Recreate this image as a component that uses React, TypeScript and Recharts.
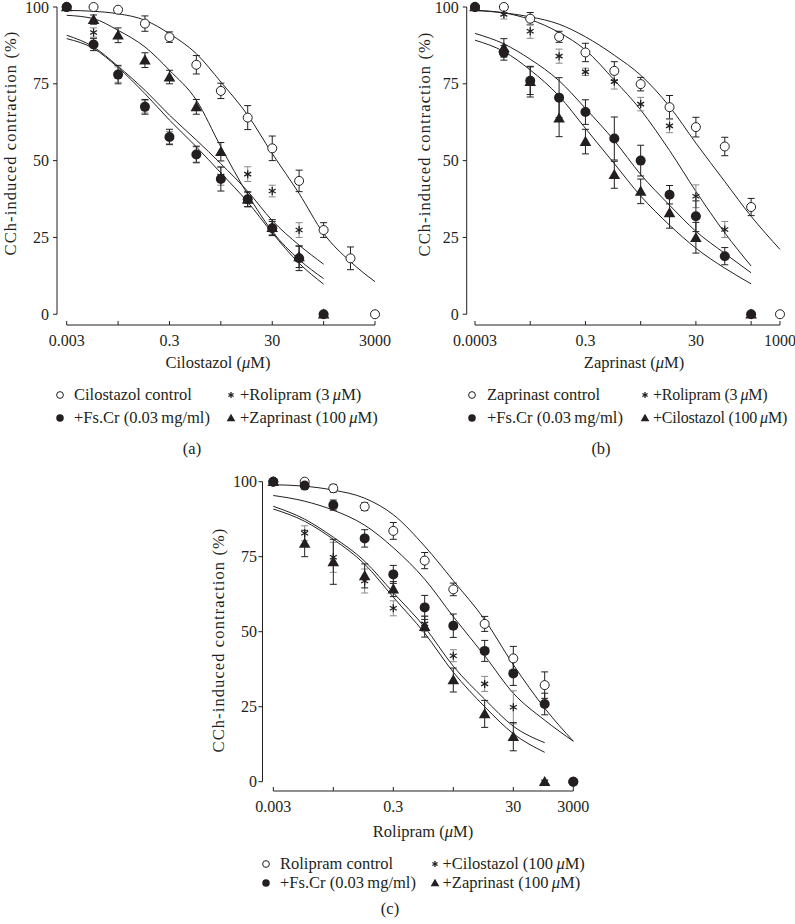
import React from 'react';
import { ComposedChart, Line, Scatter, ErrorBar, XAxis, YAxis, ReferenceLine } from 'recharts';

const INK = '#231f20';
const SERIF = '"Liberation Serif", "Times New Roman", serif';

// ---------- (a) Cilostazol ----------
const cilConc = [0.003, 0.01, 0.03, 0.1, 0.3, 1, 3, 10, 30, 100, 300, 1000, 3000];
const cilShortConc = [0.003, 0.01, 0.03, 0.1, 0.3, 1, 3, 10, 30, 100, 300];
const cilControl = [100, 100, 99.1, 94.6, 90.2, 81.2, 72.7, 64, 54, 43.4, 27.4, 18.2, 0];
const cilControlErr = [0, 0, 0, 2.5, 1.7, 3, 2.5, 3.9, 4, 3.5, 2.4, 3.7, 0];
const cilRolipram = [100, 91.7, 78, 67.5, 57.5, 52, 45, 45.6, 40.1, 27.4, 0];
const cilRolipramErr = [0, 1.5, 2.5, 2, 2, 2.5, 3, 2.4, 1.9, 2.4, 0];
const cilFsCr = [100, 87.8, 78, 67.5, 57.7, 52, 44, 37.4, 28, 18.2, 0];
const cilFsCrErr = [0, 2, 3, 2.4, 2.5, 2.7, 3.9, 2.4, 2.2, 4, 0];
const cilZaprinast = [100, 95.9, 90.8, 82.7, 77.2, 67.5, 52.9, 37.4, 28.2, 18.7, 0];
const cilZaprinastErr = [0, 1.5, 2.4, 2.4, 2.2, 2.4, 3, 2.4, 2.6, 3.5, 0];
const cilControlFit = [98.9, 98.6, 97.8, 95.7, 91.3, 84.8, 75.6, 64.8, 52.3, 39.3, 26.3, 17.1, 10.6];
const cilRolipramFit = [90.8, 87, 80.7, 72.9, 64.8, 56.7, 49, 40, 30.5, 22.5, 16.3];
const cilFsCrFit = [89.7, 86.5, 80.3, 71.8, 63.2, 54.5, 46, 36.5, 26.5, 16.6, 9.8];
const cilZaprinastFit = [97.3, 96.2, 92.4, 87, 79.4, 69.7, 54.5, 39, 27, 17.8, 11.6];
const cilTicks = [0.003, 0.03, 0.3, 3, 30, 300, 3000];
const cilTickLabels = ['0.003', '', '0.3', '', '30', '', '3000'];

// ---------- (b) Zaprinast ----------
const zapConc = [0.003, 0.01, 0.03, 0.1, 0.3, 1, 3, 10, 30, 100, 300, 1000];
const zapShortConc = [0.003, 0.01, 0.03, 0.1, 0.3, 1, 3, 10, 30, 100, 300];
const zapCiloConc = [0.003, 0.01, 0.03, 0.1, 0.3, 1, 3, 10, 30, 300];
const zapControl = [100, 100, 96.2, 90.3, 85.2, 79.2, 74.9, 67.4, 60.9, 54.6, 34.9, 0];
const zapControlErr = [0, 0, 2, 1.8, 3, 3, 2.2, 3.8, 3.2, 3, 2.8, 0];
const zapRolipram = [100, 97.6, 92.1, 84, 78.9, 75.7, 68.4, 61.3, 38.4, 27.6, 0];
const zapRolipramErr = [0, 1.5, 2.3, 2.3, 1.2, 2.4, 2.2, 2.2, 3.7, 2.6, 0];
const zapFsCr = [100, 85.1, 76, 70.5, 65.8, 57.2, 50, 38.9, 31.9, 18.9, 0];
const zapFsCrErr = [0, 2.4, 4.5, 6.5, 4, 7, 5, 3, 5, 2.8, 0];
const zapCilostazol = [100, 86.7, 75.7, 63.8, 56.2, 45.4, 40, 33, 24.9, 0];
const zapCilostazolErr = [0, 3, 5, 6, 4, 4.4, 4, 5, 5, 0];
const zapControlFit = [98.9, 98.1, 96.8, 94.4, 90.3, 84.3, 77.8, 67.6, 55.7, 43.2, 31.9, 21.1];
const zapRolipramFit = [98.9, 98.1, 95.9, 91.7, 86, 76.2, 66.5, 53.3, 40, 26.5, 15.7];
const zapFsCrFit = [91.4, 88, 83, 76, 67, 56.5, 45.5, 35.5, 27, 19.8, 13.5];
const zapCilostazolFit = [89.2, 85.5, 79.5, 71, 60.5, 49, 38.5, 29, 21.5, 15, 9.9];
const zapTicks = [0.003, 0.03, 0.3, 3, 30, 300, 1000];
const zapTickLabels = ['0.0003', '', '0.3', '', '30', '', '1000'];

// ---------- (c) Rolipram ----------
const roliConc = [0.003, 0.01, 0.03, 0.1, 0.3, 1, 3, 10, 30, 100, 300];
const roliShortConc = [0.003, 0.01, 0.03, 0.1, 0.3, 1, 3, 10, 30, 100];
const roliControl = [100, 100, 97.8, 91.7, 83.6, 73.7, 64.1, 52.6, 41.1, 32.2, 0];
const roliControlErr = [0, 0, 1.3, 1.3, 2.8, 2.7, 2.1, 2.5, 4, 4.4, 0];
const roliCilostazol = [100, 82.8, 74.8, 66.9, 57.8, 52.6, 42, 32.6, 24.8, 0];
const roliCilostazolErr = [0, 2.5, 5, 4, 2.5, 2.5, 2, 2.5, 5.5, 0];
const roliFsCr = [100, 98.7, 92.2, 81.1, 69.1, 58.1, 52, 43.6, 36.1, 25.9, 0];
const roliFsCrErr = [0, 0.8, 1.7, 2.9, 3, 4, 3.9, 3.5, 4, 3.6, 0];
const roliZaprinast = [100, 79.4, 73.3, 68.6, 64.2, 51.7, 33.9, 22.6, 15, 0];
const roliZaprinastErr = [0, 4.4, 7.5, 4, 2.5, 3.5, 4, 4.5, 4.7, 0];
const roliControlFit = [99, 98.5, 97.2, 94.5, 89, 78.5, 67, 54, 39, 24.5, 13.5];
const roliFsCrFit = [95.4, 93.5, 90.5, 85.5, 78, 67.5, 55, 42, 29.5, 20.5, 13.5];
const roliCilostazolFit = [91.8, 87.5, 81.5, 73.5, 63, 51.5, 38.5, 27.5, 18.5, 13];
const roliZaprinastFit = [90.9, 86.8, 80.8, 72.5, 61.5, 49.5, 36.5, 25, 16, 9.8];
const roliTicks = [0.003, 0.03, 0.3, 3, 30, 300];
const roliTickLabels = ['0.003', '', '0.3', '', '30', '3000'];

const yTicks = [0, 25, 50, 75, 100];

const toPts = (xs: number[], ys: number[], errs?: number[]) =>
  xs.map((x, i) => ({ x, y: ys[i], err: errs ? errs[i] : 0 }));

type Kind = 'open' | 'star' | 'tri' | 'filled';

const starArms = [90, 30, 150];

function drawMark(kind: Kind, cx: number, cy: number, small = false) {
  const k = small ? 0.75 : 1;
  if (kind === 'open') return <circle cx={cx} cy={cy} r={4.5 * k} fill="#fff" stroke={INK} strokeWidth={1} />;
  if (kind === 'filled') return <circle cx={cx} cy={cy} r={5 * k} fill={INK} />;
  if (kind === 'tri') {
    const h = 5.8 * k;
    return <path d={`M${cx},${cy - h}L${cx + h},${cy + h * 0.75}L${cx - h},${cy + h * 0.75}Z`} fill={INK} />;
  }
  const r = 4 * k;
  return (
    <g stroke={INK} strokeWidth={1.3}>
      {starArms.map((a) => {
        const dx = r * Math.cos((a * Math.PI) / 180);
        const dy = r * Math.sin((a * Math.PI) / 180);
        return <line key={a} x1={cx - dx} y1={cy - dy} x2={cx + dx} y2={cy + dy} />;
      })}
    </g>
  );
}

type Series = { data: { x: number; y: number; err: number }[]; kind: Kind; errColor: string };

function Panel(props: {
  left: number; top: number; width: number; height: number;
  margin: { top: number; right: number; bottom: number; left: number };
  xDomain: [number, number]; yDomain: [number, number];
  ticks: number[]; tickLabels: string[]; tickMarginY: number;
  fits: { x: number; y: number }[][]; series: Series[];
}) {
  const { xDomain, yDomain, ticks, tickLabels } = props;
  const tickStyle = { fill: INK, fontSize: 16, fontFamily: SERIF };
  return (
    <div style={{ position: 'absolute', left: props.left, top: props.top }}>
      <ComposedChart width={props.width} height={props.height} margin={props.margin}>
        <XAxis
          type="number" dataKey="x" scale="log" domain={xDomain} ticks={ticks} interval={0}
          tickFormatter={(v: number) => tickLabels[ticks.indexOf(v)] ?? ''}
          axisLine={false} tickSize={-4} tickMargin={14} height={30}
          stroke={INK} tickLine={{ stroke: INK }} tick={tickStyle}
        />
        <YAxis
          type="number" dataKey="y" domain={yDomain} ticks={yTicks} interval={0}
          axisLine={false} tickSize={4} tickMargin={props.tickMarginY} width={40}
          stroke={INK} tickLine={{ stroke: INK }} tick={tickStyle}
        />
        <ReferenceLine segment={[{ x: xDomain[0], y: 0 }, { x: xDomain[0], y: 100 }]} stroke={INK} strokeWidth={1} ifOverflow="visible" />
        <ReferenceLine segment={[{ x: ticks[0], y: yDomain[0] }, { x: ticks[ticks.length - 1], y: yDomain[0] }]} stroke={INK} strokeWidth={1} ifOverflow="visible" />
        {props.fits.map((f, i) => (
          <Line key={'fit' + i} data={f} dataKey="y" type="monotone" dot={false} activeDot={false}
            stroke={INK} strokeWidth={1} isAnimationActive={false} />
        ))}
        {props.series.map((s, i) => (
          <Scatter key={'s' + i} data={s.data} dataKey="y" isAnimationActive={false}
            shape={(p: any) => drawMark(s.kind, p.cx, p.cy)}>
            <ErrorBar dataKey="err" direction="y" width={3.5} stroke={s.errColor} strokeWidth={1} />
          </Scatter>
        ))}
      </ComposedChart>
    </div>
  );
}

const txt = (left: number, top: number, size = 16.5): React.CSSProperties => ({
  position: 'absolute', left, top, transform: 'translateY(-50%)', whiteSpace: 'nowrap',
  fontFamily: SERIF, fontSize: size, lineHeight: 1, color: INK,
});

const centered = (cx: number, cy: number): React.CSSProperties => ({
  ...txt(cx, cy), transform: 'translate(-50%, -50%)',
});

function YTitle({ cx, cy }: { cx: number; cy: number }) {
  return (
    <div style={{ ...txt(cx, cy), transform: 'translate(-50%, -50%) rotate(-90deg)', letterSpacing: 1.1 }}>
      CCh-induced contraction (%)
    </div>
  );
}

function Mark({ kind, cx, cy }: { kind: Kind; cx: number; cy: number }) {
  return (
    <svg width={14} height={14} style={{ position: 'absolute', left: cx - 7, top: cy - 7 }}>
      {drawMark(kind, 7, 7, true)}
    </svg>
  );
}

type LegendItem = { kind: Kind; label: React.ReactNode };

function LegendBlock(props: {
  rows: [number, number]; col1: [number, number]; col2: [number, number];
  items: [LegendItem, LegendItem, LegendItem, LegendItem];
  col2Style?: React.CSSProperties;
}) {
  const { rows, col1, col2, items, col2Style } = props;
  const place = [
    [col1, rows[0]], [col2, rows[0]], [col1, rows[1]], [col2, rows[1]],
  ] as [[number, number], number][];
  return (
    <>
      {items.map((it, i) => {
        const [[mx, tx], y] = place[i];
        const extra = i % 2 === 1 ? col2Style : undefined;
        return (
          <React.Fragment key={i}>
            <Mark kind={it.kind} cx={mx} cy={y} />
            <div style={{ ...txt(tx, y), ...extra }}>{it.label}</div>
          </React.Fragment>
        );
      })}
    </>
  );
}

const mu = <i>μ</i>;

export default function App() {
  return (
    <div style={{ position: 'absolute', left: 0, top: 0, width: 795, height: 924, background: '#fff', overflow: 'hidden' }}>
      <Panel
        left={0} top={0} width={395} height={355}
        margin={{ top: 7, right: 10, bottom: 0, left: 17 }}
        xDomain={[0.001943, 4695]} yDomain={[-3.5, 100]}
        ticks={cilTicks} tickLabels={cilTickLabels} tickMarginY={4}
        fits={[
          toPts(cilConc, cilControlFit), toPts(cilShortConc, cilRolipramFit),
          toPts(cilShortConc, cilFsCrFit), toPts(cilShortConc, cilZaprinastFit),
        ]}
        series={[
          { data: toPts(cilConc, cilControl, cilControlErr), kind: 'open', errColor: INK },
          { data: toPts(cilShortConc, cilRolipram, cilRolipramErr), kind: 'star', errColor: '#8a8a8a' },
          { data: toPts(cilShortConc, cilZaprinast, cilZaprinastErr), kind: 'tri', errColor: INK },
          { data: toPts(cilShortConc, cilFsCr, cilFsCrErr), kind: 'filled', errColor: INK },
        ]}
      />
      <Panel
        left={400} top={0} width={395} height={355}
        margin={{ top: 7, right: 6, bottom: 0, left: 26.7 }}
        xDomain={[0.002122, 1456]} yDomain={[-3.5, 100]}
        ticks={zapTicks} tickLabels={zapTickLabels} tickMarginY={4}
        fits={[
          toPts(zapConc, zapControlFit), toPts(zapShortConc, zapRolipramFit),
          toPts(zapShortConc, zapFsCrFit), toPts(zapShortConc, zapCilostazolFit),
        ]}
        series={[
          { data: toPts(zapConc, zapControl, zapControlErr), kind: 'open', errColor: INK },
          { data: toPts(zapShortConc, zapRolipram, zapRolipramErr), kind: 'star', errColor: '#8a8a8a' },
          { data: toPts(zapCiloConc, zapCilostazol, zapCilostazolErr), kind: 'tri', errColor: INK },
          { data: toPts(zapShortConc, zapFsCr, zapFsCrErr), kind: 'filled', errColor: INK },
        ]}
      />
      <Panel
        left={190} top={470} width={400} height={351}
        margin={{ top: 11.7, right: 7, bottom: 0, left: 32.5 }}
        xDomain={[0.001982, 435.3]} yDomain={[-3.1, 100]}
        ticks={roliTicks} tickLabels={roliTickLabels} tickMarginY={1.5}
        fits={[
          toPts(roliConc, roliControlFit), toPts(roliConc, roliFsCrFit),
          toPts(roliShortConc, roliCilostazolFit), toPts(roliShortConc, roliZaprinastFit),
        ]}
        series={[
          { data: toPts(roliConc, roliControl, roliControlErr), kind: 'open', errColor: INK },
          { data: toPts(roliShortConc, roliCilostazol, roliCilostazolErr), kind: 'star', errColor: '#8a8a8a' },
          { data: toPts(roliShortConc, roliZaprinast, roliZaprinastErr), kind: 'tri', errColor: INK },
          { data: toPts(roliConc, roliFsCr, roliFsCrErr), kind: 'filled', errColor: INK },
        ]}
      />

      <YTitle cx={11} cy={143} />
      <YTitle cx={425} cy={144} />
      <YTitle cx={219} cy={640} />

      <div style={centered(218, 363)}>Cilostazol ({mu}M)</div>
      <div style={centered(634, 363)}>Zaprinast ({mu}M)</div>
      <div style={centered(423, 832)}>Rolipram ({mu}M)</div>

      <LegendBlock
        rows={[395, 418]} col1={[59.5, 74]} col2={[231, 240]}
        items={[
          { kind: 'open', label: 'Cilostazol control' },
          { kind: 'star', label: <>+Rolipram (3{'\u2009'}{mu}M)</> },
          { kind: 'filled', label: <>+Fs.Cr (0.03{'\u2009'}mg/ml)</> },
          { kind: 'tri', label: <>+Zaprinast (100{'\u2009'}{mu}M)</> },
        ]}
      />
      <LegendBlock
        rows={[395, 418]} col1={[472, 487]} col2={[645, 653]}
        col2Style={{ fontSize: 16, letterSpacing: -0.2 }}
        items={[
          { kind: 'open', label: 'Zaprinast control' },
          { kind: 'star', label: <>+Rolipram (3{'\u2009'}{mu}M)</> },
          { kind: 'filled', label: <>+Fs.Cr (0.03{'\u2009'}mg/ml)</> },
          { kind: 'tri', label: <>+Cilostazol (100{'\u2009'}{mu}M)</> },
        ]}
      />
      <LegendBlock
        rows={[864, 883]} col1={[266, 280]} col2={[435, 442.5]}
        items={[
          { kind: 'open', label: 'Rolipram control' },
          { kind: 'star', label: <>+Cilostazol (100{'\u2009'}{mu}M)</> },
          { kind: 'filled', label: <>+Fs.Cr (0.03{'\u2009'}mg/ml)</> },
          { kind: 'tri', label: <>+Zaprinast (100{'\u2009'}{mu}M)</> },
        ]}
      />

      <div style={centered(192, 449)}>(a)</div>
      <div style={centered(601, 449)}>(b)</div>
      <div style={centered(390, 909)}>(c)</div>
    </div>
  );
}
